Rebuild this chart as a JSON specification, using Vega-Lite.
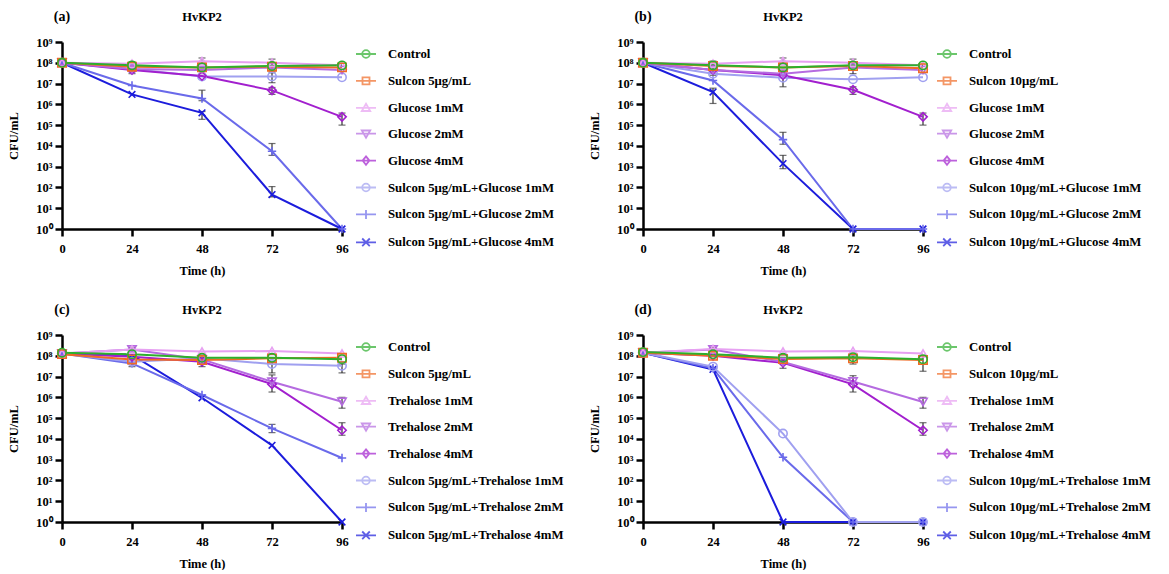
{
  "$schema": "https://vega.github.io/schema/vega-lite/v6.json",
  "background": "white",
  "padding": {"left": 7, "top": 10, "right": 0, "bottom": 0},
  "columns": 2,
  "spacing": {"row": 106, "column": 301},
  "bounds": "flush",
  "resolve": {"scale": {"color": "independent", "shape": "independent"}, "legend": {"color": "independent", "shape": "independent"}},
  "config": {
    "view": {"stroke": null},
    "font": "Liberation Serif",
    "axis": {"domainColor": "#000", "domainWidth": 2.5, "tickColor": "#000", "tickWidth": 2.5, "tickSize": 7, "labelFont": "Liberation Serif", "labelFontWeight": "bold", "labelFontSize": 12.5, "labelColor": "#000", "titleFont": "Liberation Serif", "titleFontWeight": "bold", "titleFontSize": 12.5, "titleColor": "#000", "grid": false, "labelFlush": false, "labelOverlap": false},
    "axisX": {"labelPadding": 6, "titlePadding": 10},
    "axisY": {"labelPadding": 3, "titlePadding": 15},
    "legend": {"labelFont": "Liberation Serif", "labelFontWeight": "bold", "labelFontSize": 12.8, "labelColor": "#000", "labelLimit": 400}
  },
  "datasets": {
    "a": [
      {"s": "Sulcon 5μg/mL+Glucose 4mM", "t": 0, "v": 1e8}, {"s": "Sulcon 5μg/mL+Glucose 4mM", "t": 24, "v": 3e6}, {"s": "Sulcon 5μg/mL+Glucose 4mM", "t": 48, "v": 3.9e5, "lo": 1.9e5, "hi": 4.5e5}, {"s": "Sulcon 5μg/mL+Glucose 4mM", "t": 72, "v": 45, "lo": 35, "hi": 110}, {"s": "Sulcon 5μg/mL+Glucose 4mM", "t": 96, "v": 1},
      {"s": "Sulcon 5μg/mL+Glucose 2mM", "t": 0, "v": 1e8}, {"s": "Sulcon 5μg/mL+Glucose 2mM", "t": 24, "v": 8.1e6}, {"s": "Sulcon 5μg/mL+Glucose 2mM", "t": 48, "v": 1.9e6, "lo": 1.5e6, "hi": 4.8e6}, {"s": "Sulcon 5μg/mL+Glucose 2mM", "t": 72, "v": 5.5e3, "lo": 3.5e3, "hi": 1.3e4}, {"s": "Sulcon 5μg/mL+Glucose 2mM", "t": 96, "v": 1},
      {"s": "Sulcon 5μg/mL+Glucose 1mM", "t": 0, "v": 1e8}, {"s": "Sulcon 5μg/mL+Glucose 1mM", "t": 24, "v": 5e7}, {"s": "Sulcon 5μg/mL+Glucose 1mM", "t": 48, "v": 2.2e7}, {"s": "Sulcon 5μg/mL+Glucose 1mM", "t": 72, "v": 2.2e7, "lo": 1.1e7, "hi": 3.3e7}, {"s": "Sulcon 5μg/mL+Glucose 1mM", "t": 96, "v": 2e7},
      {"s": "Glucose 4mM", "t": 0, "v": 1e8}, {"s": "Glucose 4mM", "t": 24, "v": 4.5e7}, {"s": "Glucose 4mM", "t": 48, "v": 2.3e7}, {"s": "Glucose 4mM", "t": 72, "v": 4.7e6, "lo": 3e6, "hi": 6.5e6}, {"s": "Glucose 4mM", "t": 96, "v": 2.5e5, "lo": 1e5, "hi": 3.8e5},
      {"s": "Glucose 2mM", "t": 0, "v": 1e8}, {"s": "Glucose 2mM", "t": 24, "v": 5e7, "lo": 3e7, "hi": 6e7}, {"s": "Glucose 2mM", "t": 48, "v": 4.5e7}, {"s": "Glucose 2mM", "t": 72, "v": 6e7}, {"s": "Glucose 2mM", "t": 96, "v": 4.5e7},
      {"s": "Glucose 1mM", "t": 0, "v": 1e8}, {"s": "Glucose 1mM", "t": 24, "v": 9e7}, {"s": "Glucose 1mM", "t": 48, "v": 1.2e8, "lo": 9e7, "hi": 1.7e8}, {"s": "Glucose 1mM", "t": 72, "v": 1e8}, {"s": "Glucose 1mM", "t": 96, "v": 7.5e7},
      {"s": "Sulcon 5μg/mL", "t": 0, "v": 1e8}, {"s": "Sulcon 5μg/mL", "t": 24, "v": 6.5e7}, {"s": "Sulcon 5μg/mL", "t": 48, "v": 6e7}, {"s": "Sulcon 5μg/mL", "t": 72, "v": 6.5e7, "lo": 4e7, "hi": 1.5e8}, {"s": "Sulcon 5μg/mL", "t": 96, "v": 6e7},
      {"s": "Control", "t": 0, "v": 1e8}, {"s": "Control", "t": 24, "v": 7.5e7, "lo": 5e7, "hi": 1.1e8}, {"s": "Control", "t": 48, "v": 6e7}, {"s": "Control", "t": 72, "v": 7e7}, {"s": "Control", "t": 96, "v": 7.5e7}
    ],
    "b": [
      {"s": "Sulcon 10μg/mL+Glucose 4mM", "t": 0, "v": 1e8}, {"s": "Sulcon 10μg/mL+Glucose 4mM", "t": 24, "v": 3.9e6, "lo": 1.1e6, "hi": 6e6}, {"s": "Sulcon 10μg/mL+Glucose 4mM", "t": 48, "v": 1.4e3, "lo": 8e2, "hi": 3.5e3}, {"s": "Sulcon 10μg/mL+Glucose 4mM", "t": 72, "v": 1}, {"s": "Sulcon 10μg/mL+Glucose 4mM", "t": 96, "v": 1},
      {"s": "Sulcon 10μg/mL+Glucose 2mM", "t": 0, "v": 1e8}, {"s": "Sulcon 10μg/mL+Glucose 2mM", "t": 24, "v": 1.4e7}, {"s": "Sulcon 10μg/mL+Glucose 2mM", "t": 48, "v": 2e4, "lo": 1.2e4, "hi": 4.5e4}, {"s": "Sulcon 10μg/mL+Glucose 2mM", "t": 72, "v": 1}, {"s": "Sulcon 10μg/mL+Glucose 2mM", "t": 96, "v": 1},
      {"s": "Sulcon 10μg/mL+Glucose 1mM", "t": 0, "v": 1e8}, {"s": "Sulcon 10μg/mL+Glucose 1mM", "t": 24, "v": 3e7}, {"s": "Sulcon 10μg/mL+Glucose 1mM", "t": 48, "v": 1.9e7, "lo": 7e6, "hi": 2.5e7}, {"s": "Sulcon 10μg/mL+Glucose 1mM", "t": 72, "v": 1.6e7}, {"s": "Sulcon 10μg/mL+Glucose 1mM", "t": 96, "v": 2e7},
      {"s": "Glucose 4mM", "t": 0, "v": 1e8}, {"s": "Glucose 4mM", "t": 24, "v": 4.5e7}, {"s": "Glucose 4mM", "t": 48, "v": 2.5e7}, {"s": "Glucose 4mM", "t": 72, "v": 5e6, "lo": 3e6, "hi": 7e6}, {"s": "Glucose 4mM", "t": 96, "v": 2.5e5, "lo": 1e5, "hi": 3.8e5},
      {"s": "Glucose 2mM", "t": 0, "v": 1e8}, {"s": "Glucose 2mM", "t": 24, "v": 4.5e7, "lo": 2.5e7, "hi": 6e7}, {"s": "Glucose 2mM", "t": 48, "v": 3e7}, {"s": "Glucose 2mM", "t": 72, "v": 6e7}, {"s": "Glucose 2mM", "t": 96, "v": 4.5e7},
      {"s": "Glucose 1mM", "t": 0, "v": 1e8}, {"s": "Glucose 1mM", "t": 24, "v": 9e7}, {"s": "Glucose 1mM", "t": 48, "v": 1.2e8, "lo": 8e7, "hi": 1.7e8}, {"s": "Glucose 1mM", "t": 72, "v": 1e8}, {"s": "Glucose 1mM", "t": 96, "v": 7.5e7},
      {"s": "Sulcon 10μg/mL", "t": 0, "v": 1e8}, {"s": "Sulcon 10μg/mL", "t": 24, "v": 7e7}, {"s": "Sulcon 10μg/mL", "t": 48, "v": 6e7}, {"s": "Sulcon 10μg/mL", "t": 72, "v": 7e7, "lo": 3e7, "hi": 1.5e8}, {"s": "Sulcon 10μg/mL", "t": 96, "v": 5.5e7},
      {"s": "Control", "t": 0, "v": 1e8}, {"s": "Control", "t": 24, "v": 7.5e7, "lo": 4e7, "hi": 1.2e8}, {"s": "Control", "t": 48, "v": 6e7}, {"s": "Control", "t": 72, "v": 7.5e7}, {"s": "Control", "t": 96, "v": 7.5e7}
    ],
    "c": [
      {"s": "Sulcon 5μg/mL+Trehalose 4mM", "t": 0, "v": 1.3e8}, {"s": "Sulcon 5μg/mL+Trehalose 4mM", "t": 24, "v": 1.1e8}, {"s": "Sulcon 5μg/mL+Trehalose 4mM", "t": 48, "v": 9.5e5}, {"s": "Sulcon 5μg/mL+Trehalose 4mM", "t": 72, "v": 4.9e3}, {"s": "Sulcon 5μg/mL+Trehalose 4mM", "t": 96, "v": 1},
      {"s": "Sulcon 5μg/mL+Trehalose 2mM", "t": 0, "v": 1.3e8}, {"s": "Sulcon 5μg/mL+Trehalose 2mM", "t": 24, "v": 4.3e7}, {"s": "Sulcon 5μg/mL+Trehalose 2mM", "t": 48, "v": 1.3e6}, {"s": "Sulcon 5μg/mL+Trehalose 2mM", "t": 72, "v": 3.2e4, "lo": 2e4, "hi": 5e4}, {"s": "Sulcon 5μg/mL+Trehalose 2mM", "t": 96, "v": 1.2e3},
      {"s": "Sulcon 5μg/mL+Trehalose 1mM", "t": 0, "v": 1.3e8}, {"s": "Sulcon 5μg/mL+Trehalose 1mM", "t": 24, "v": 5.2e7}, {"s": "Sulcon 5μg/mL+Trehalose 1mM", "t": 48, "v": 7.5e7}, {"s": "Sulcon 5μg/mL+Trehalose 1mM", "t": 72, "v": 4e7, "lo": 1.5e7, "hi": 5e7}, {"s": "Sulcon 5μg/mL+Trehalose 1mM", "t": 96, "v": 3.3e7, "lo": 1.5e7, "hi": 4e7},
      {"s": "Trehalose 4mM", "t": 0, "v": 1.3e8}, {"s": "Trehalose 4mM", "t": 24, "v": 9e7}, {"s": "Trehalose 4mM", "t": 48, "v": 5.2e7}, {"s": "Trehalose 4mM", "t": 72, "v": 4.3e6}, {"s": "Trehalose 4mM", "t": 96, "v": 2.6e4, "lo": 1.5e4, "hi": 6e4},
      {"s": "Trehalose 2mM", "t": 0, "v": 1.3e8}, {"s": "Trehalose 2mM", "t": 24, "v": 2e8, "lo": 1e8, "hi": 2.5e8}, {"s": "Trehalose 2mM", "t": 48, "v": 6.7e7}, {"s": "Trehalose 2mM", "t": 72, "v": 5.6e6, "lo": 1.8e6, "hi": 1.2e7}, {"s": "Trehalose 2mM", "t": 96, "v": 6.1e5, "lo": 3e5, "hi": 1e6},
      {"s": "Trehalose 1mM", "t": 0, "v": 1.3e8}, {"s": "Trehalose 1mM", "t": 24, "v": 2e8}, {"s": "Trehalose 1mM", "t": 48, "v": 1.6e8}, {"s": "Trehalose 1mM", "t": 72, "v": 1.7e8}, {"s": "Trehalose 1mM", "t": 96, "v": 1.3e8},
      {"s": "Sulcon 5μg/mL", "t": 0, "v": 1.2e8}, {"s": "Sulcon 5μg/mL", "t": 24, "v": 6.7e7, "lo": 3e7, "hi": 1e8}, {"s": "Sulcon 5μg/mL", "t": 48, "v": 6.2e7, "lo": 3e7, "hi": 8e7}, {"s": "Sulcon 5μg/mL", "t": 72, "v": 7.5e7}, {"s": "Sulcon 5μg/mL", "t": 96, "v": 8e7},
      {"s": "Control", "t": 0, "v": 1.4e8}, {"s": "Control", "t": 24, "v": 1.2e8}, {"s": "Control", "t": 48, "v": 8e7}, {"s": "Control", "t": 72, "v": 8e7}, {"s": "Control", "t": 96, "v": 6.9e7}
    ],
    "d": [
      {"s": "Sulcon 10μg/mL+Trehalose 4mM", "t": 0, "v": 1.4e8}, {"s": "Sulcon 10μg/mL+Trehalose 4mM", "t": 24, "v": 2.2e7}, {"s": "Sulcon 10μg/mL+Trehalose 4mM", "t": 48, "v": 1}, {"s": "Sulcon 10μg/mL+Trehalose 4mM", "t": 72, "v": 1}, {"s": "Sulcon 10μg/mL+Trehalose 4mM", "t": 96, "v": 1},
      {"s": "Sulcon 10μg/mL+Trehalose 2mM", "t": 0, "v": 1.4e8}, {"s": "Sulcon 10μg/mL+Trehalose 2mM", "t": 24, "v": 2.5e7}, {"s": "Sulcon 10μg/mL+Trehalose 2mM", "t": 48, "v": 1.3e3}, {"s": "Sulcon 10μg/mL+Trehalose 2mM", "t": 72, "v": 1}, {"s": "Sulcon 10μg/mL+Trehalose 2mM", "t": 96, "v": 1},
      {"s": "Sulcon 10μg/mL+Trehalose 1mM", "t": 0, "v": 1.4e8}, {"s": "Sulcon 10μg/mL+Trehalose 1mM", "t": 24, "v": 3e7}, {"s": "Sulcon 10μg/mL+Trehalose 1mM", "t": 48, "v": 1.8e4}, {"s": "Sulcon 10μg/mL+Trehalose 1mM", "t": 72, "v": 1}, {"s": "Sulcon 10μg/mL+Trehalose 1mM", "t": 96, "v": 1},
      {"s": "Trehalose 4mM", "t": 0, "v": 1.4e8}, {"s": "Trehalose 4mM", "t": 24, "v": 1e8}, {"s": "Trehalose 4mM", "t": 48, "v": 4.6e7}, {"s": "Trehalose 4mM", "t": 72, "v": 4.2e6}, {"s": "Trehalose 4mM", "t": 96, "v": 2.6e4, "lo": 1.5e4, "hi": 6e4},
      {"s": "Trehalose 2mM", "t": 0, "v": 1.4e8}, {"s": "Trehalose 2mM", "t": 24, "v": 2e8, "lo": 1e8, "hi": 2.5e8}, {"s": "Trehalose 2mM", "t": 48, "v": 5e7, "lo": 2.5e7, "hi": 6e7}, {"s": "Trehalose 2mM", "t": 72, "v": 5.8e6, "lo": 1.8e6, "hi": 1.1e7}, {"s": "Trehalose 2mM", "t": 96, "v": 6e5, "lo": 3e5, "hi": 1e6},
      {"s": "Trehalose 1mM", "t": 0, "v": 1.4e8}, {"s": "Trehalose 1mM", "t": 24, "v": 2.1e8}, {"s": "Trehalose 1mM", "t": 48, "v": 1.6e8}, {"s": "Trehalose 1mM", "t": 72, "v": 1.7e8}, {"s": "Trehalose 1mM", "t": 96, "v": 1.3e8},
      {"s": "Sulcon 10μg/mL", "t": 0, "v": 1.4e8}, {"s": "Sulcon 10μg/mL", "t": 24, "v": 1e8}, {"s": "Sulcon 10μg/mL", "t": 48, "v": 7e7}, {"s": "Sulcon 10μg/mL", "t": 72, "v": 7.5e7, "lo": 4e7, "hi": 1e8}, {"s": "Sulcon 10μg/mL", "t": 96, "v": 6.3e7, "lo": 1.8e7, "hi": 1e8},
      {"s": "Control", "t": 0, "v": 1.5e8}, {"s": "Control", "t": 24, "v": 1.2e8}, {"s": "Control", "t": 48, "v": 8e7}, {"s": "Control", "t": 72, "v": 8.5e7}, {"s": "Control", "t": 96, "v": 6.9e7}
    ]
  },
  "concat": [
    {
      "width": 280, "height": 187,
      "data": {"name": "a"},
      "resolve": {"scale": {"color": "independent", "shape": "independent"}},
      "encoding": {"x": {"field": "t", "type": "quantitative", "scale": {"domain": [0, 96], "nice": false, "zero": false}, "axis": {"values": [0, 24, 48, 72, 96], "title": "Time (h)"}}},
      "layer": [
        {"transform": [{"filter": "isValid(datum.lo)"}], "mark": {"type": "errorbar", "color": "#333333", "thickness": 1.2, "ticks": {"size": 7}},
         "encoding": {"y": {"field": "lo", "type": "quantitative", "scale": {"type": "log", "domain": [1, 1000000000], "nice": false}, "axis": {"title": "CFU/mL", "values": [1, 10, 100, 1000, 10000, 100000, 1000000, 10000000, 100000000, 1000000000], "labelExpr": "'10' + ['⁰','¹','²','³','⁴','⁵','⁶','⁷','⁸','⁹'][round(log(datum.value)/LN10)]"}}, "y2": {"field": "hi"}}},
        {"mark": {"type": "line", "strokeWidth": 2},
         "encoding": {"y": {"field": "v", "type": "quantitative", "scale": {"type": "log", "domain": [1, 1000000000], "nice": false}, "axis": {"title": "CFU/mL", "values": [1, 10, 100, 1000, 10000, 100000, 1000000, 10000000, 100000000, 1000000000], "labelExpr": "'10' + ['⁰','¹','²','³','⁴','⁵','⁶','⁷','⁸','⁹'][round(log(datum.value)/LN10)]"}},
           "color": {"field": "s", "type": "nominal", "legend": null, "scale": {"domain": ["Control", "Sulcon 5μg/mL", "Glucose 1mM", "Glucose 2mM", "Glucose 4mM", "Sulcon 5μg/mL+Glucose 1mM", "Sulcon 5μg/mL+Glucose 2mM", "Sulcon 5μg/mL+Glucose 4mM"], "range": ["#2DAF2D", "#F06A24", "#E7A0F2", "#B56BE0", "#A21FCE", "#A0A0F0", "#6A6AEA", "#1C1CDC"]}}}},
        {"mark": {"type": "point", "filled": false, "size": 70, "strokeWidth": 1.6, "opacity": 1},
         "encoding": {"y": {"field": "v", "type": "quantitative", "scale": {"type": "log", "domain": [1, 1000000000], "nice": false}, "axis": {"title": "CFU/mL", "values": [1, 10, 100, 1000, 10000, 100000, 1000000, 10000000, 100000000, 1000000000], "labelExpr": "'10' + ['⁰','¹','²','³','⁴','⁵','⁶','⁷','⁸','⁹'][round(log(datum.value)/LN10)]"}},
           "color": {"field": "s", "type": "nominal", "legend": null, "scale": {"domain": ["Control", "Sulcon 5μg/mL", "Glucose 1mM", "Glucose 2mM", "Glucose 4mM", "Sulcon 5μg/mL+Glucose 1mM", "Sulcon 5μg/mL+Glucose 2mM", "Sulcon 5μg/mL+Glucose 4mM"], "range": ["#2DAF2D", "#F06A24", "#E7A0F2", "#B56BE0", "#A21FCE", "#A0A0F0", "#6A6AEA", "#1C1CDC"]}},
           "shape": {"field": "s", "type": "nominal", "legend": null, "scale": {"domain": ["Control", "Sulcon 5μg/mL", "Glucose 1mM", "Glucose 2mM", "Glucose 4mM", "Sulcon 5μg/mL+Glucose 1mM", "Sulcon 5μg/mL+Glucose 2mM", "Sulcon 5μg/mL+Glucose 4mM"], "range": ["circle", "square", "triangle-up", "triangle-down", "diamond", "circle", "M-1,0L1,0M0,-1L0,1", "M-0.8,-0.8L0.8,0.8M-0.8,0.8L0.8,-0.8"]}}}},
        {"transform": [{"filter": "false"}], "mark": {"type": "point", "filled": false, "strokeWidth": 1.6},
         "encoding": {
           "color": {"field": "s", "type": "nominal", "scale": {"domain": ["Control", "Sulcon 5μg/mL", "Glucose 1mM", "Glucose 2mM", "Glucose 4mM", "Sulcon 5μg/mL+Glucose 1mM", "Sulcon 5μg/mL+Glucose 2mM", "Sulcon 5μg/mL+Glucose 4mM"], "range": ["#2DAF2D", "#F06A24", "#E7A0F2", "#B56BE0", "#A21FCE", "#A0A0F0", "#6A6AEA", "#1C1CDC"]},
             "legend": {"title": null, "orient": "none", "legendX": 293, "legendY": 1, "symbolSize": 400, "rowPadding": 7.9, "labelOffset": 11, "symbolStrokeWidth": 1.8, "padding": 0}},
           "shape": {"field": "s", "type": "nominal", "scale": {"domain": ["Control", "Sulcon 5μg/mL", "Glucose 1mM", "Glucose 2mM", "Glucose 4mM", "Sulcon 5μg/mL+Glucose 1mM", "Sulcon 5μg/mL+Glucose 2mM", "Sulcon 5μg/mL+Glucose 4mM"], "range": ["M-1,0L1,0M0.38,0A0.38,0.38,0,1,1,-0.38,0A0.38,0.38,0,1,1,0.38,0", "M-1,0L1,0M-0.35,-0.35L0.35,-0.35L0.35,0.35L-0.35,0.35Z", "M-1,0L1,0M0,-0.4L0.42,0.32L-0.42,0.32Z", "M-1,0L1,0M0,0.4L0.42,-0.32L-0.42,-0.32Z", "M-1,0L1,0M0,-0.42L0.34,0L0,0.42L-0.34,0Z", "M-1,0L1,0M0.38,0A0.38,0.38,0,1,1,-0.38,0A0.38,0.38,0,1,1,0.38,0", "M-1,0L1,0M0,-0.45L0,0.45", "M-1,0L1,0M-0.38,-0.38L0.38,0.38M-0.38,0.38L0.38,-0.38"]},
             "legend": {"title": null, "orient": "none", "legendX": 293, "legendY": 1, "symbolSize": 400, "rowPadding": 7.9, "labelOffset": 11, "symbolStrokeWidth": 1.8, "padding": 0}}}},
        {"data": {"values": [{"lab": "(a)", "t": 0, "v": 1000000000}]}, "mark": {"type": "text", "dy": -25, "fontSize": 14, "fontWeight": "bold", "font": "Liberation Serif", "baseline": "middle", "align": "center", "color": "#000"},
         "encoding": {"y": {"field": "v", "type": "quantitative", "scale": {"type": "log", "domain": [1, 1000000000], "nice": false}, "axis": {"title": "CFU/mL", "values": [1, 10, 100, 1000, 10000, 100000, 1000000, 10000000, 100000000, 1000000000], "labelExpr": "'10' + ['⁰','¹','²','³','⁴','⁵','⁶','⁷','⁸','⁹'][round(log(datum.value)/LN10)]"}}, "text": {"field": "lab"}}},
        {"data": {"values": [{"lab": "HvKP2", "t": 48, "v": 1000000000}]}, "mark": {"type": "text", "dy": -25, "fontSize": 12.5, "fontWeight": "bold", "font": "Liberation Serif", "baseline": "middle", "align": "center", "color": "#000"},
         "encoding": {"y": {"field": "v", "type": "quantitative", "scale": {"type": "log", "domain": [1, 1000000000], "nice": false}, "axis": {"title": "CFU/mL", "values": [1, 10, 100, 1000, 10000, 100000, 1000000, 10000000, 100000000, 1000000000], "labelExpr": "'10' + ['⁰','¹','²','³','⁴','⁵','⁶','⁷','⁸','⁹'][round(log(datum.value)/LN10)]"}}, "text": {"field": "lab"}}}
      ]
    },
    {
      "width": 280, "height": 187,
      "data": {"name": "b"},
      "resolve": {"scale": {"color": "independent", "shape": "independent"}},
      "encoding": {"x": {"field": "t", "type": "quantitative", "scale": {"domain": [0, 96], "nice": false, "zero": false}, "axis": {"values": [0, 24, 48, 72, 96], "title": "Time (h)"}}},
      "layer": [
        {"transform": [{"filter": "isValid(datum.lo)"}], "mark": {"type": "errorbar", "color": "#333333", "thickness": 1.2, "ticks": {"size": 7}},
         "encoding": {"y": {"field": "lo", "type": "quantitative", "scale": {"type": "log", "domain": [1, 1000000000], "nice": false}, "axis": {"title": "CFU/mL", "values": [1, 10, 100, 1000, 10000, 100000, 1000000, 10000000, 100000000, 1000000000], "labelExpr": "'10' + ['⁰','¹','²','³','⁴','⁵','⁶','⁷','⁸','⁹'][round(log(datum.value)/LN10)]"}}, "y2": {"field": "hi"}}},
        {"mark": {"type": "line", "strokeWidth": 2},
         "encoding": {"y": {"field": "v", "type": "quantitative", "scale": {"type": "log", "domain": [1, 1000000000], "nice": false}, "axis": {"title": "CFU/mL", "values": [1, 10, 100, 1000, 10000, 100000, 1000000, 10000000, 100000000, 1000000000], "labelExpr": "'10' + ['⁰','¹','²','³','⁴','⁵','⁶','⁷','⁸','⁹'][round(log(datum.value)/LN10)]"}},
           "color": {"field": "s", "type": "nominal", "legend": null, "scale": {"domain": ["Control", "Sulcon 10μg/mL", "Glucose 1mM", "Glucose 2mM", "Glucose 4mM", "Sulcon 10μg/mL+Glucose 1mM", "Sulcon 10μg/mL+Glucose 2mM", "Sulcon 10μg/mL+Glucose 4mM"], "range": ["#2DAF2D", "#F06A24", "#E7A0F2", "#B56BE0", "#A21FCE", "#A0A0F0", "#6A6AEA", "#1C1CDC"]}}}},
        {"mark": {"type": "point", "filled": false, "size": 70, "strokeWidth": 1.6, "opacity": 1},
         "encoding": {"y": {"field": "v", "type": "quantitative", "scale": {"type": "log", "domain": [1, 1000000000], "nice": false}, "axis": {"title": "CFU/mL", "values": [1, 10, 100, 1000, 10000, 100000, 1000000, 10000000, 100000000, 1000000000], "labelExpr": "'10' + ['⁰','¹','²','³','⁴','⁵','⁶','⁷','⁸','⁹'][round(log(datum.value)/LN10)]"}},
           "color": {"field": "s", "type": "nominal", "legend": null, "scale": {"domain": ["Control", "Sulcon 10μg/mL", "Glucose 1mM", "Glucose 2mM", "Glucose 4mM", "Sulcon 10μg/mL+Glucose 1mM", "Sulcon 10μg/mL+Glucose 2mM", "Sulcon 10μg/mL+Glucose 4mM"], "range": ["#2DAF2D", "#F06A24", "#E7A0F2", "#B56BE0", "#A21FCE", "#A0A0F0", "#6A6AEA", "#1C1CDC"]}},
           "shape": {"field": "s", "type": "nominal", "legend": null, "scale": {"domain": ["Control", "Sulcon 10μg/mL", "Glucose 1mM", "Glucose 2mM", "Glucose 4mM", "Sulcon 10μg/mL+Glucose 1mM", "Sulcon 10μg/mL+Glucose 2mM", "Sulcon 10μg/mL+Glucose 4mM"], "range": ["circle", "square", "triangle-up", "triangle-down", "diamond", "circle", "M-1,0L1,0M0,-1L0,1", "M-0.8,-0.8L0.8,0.8M-0.8,0.8L0.8,-0.8"]}}}},
        {"transform": [{"filter": "false"}], "mark": {"type": "point", "filled": false, "strokeWidth": 1.6},
         "encoding": {
           "color": {"field": "s", "type": "nominal", "scale": {"domain": ["Control", "Sulcon 10μg/mL", "Glucose 1mM", "Glucose 2mM", "Glucose 4mM", "Sulcon 10μg/mL+Glucose 1mM", "Sulcon 10μg/mL+Glucose 2mM", "Sulcon 10μg/mL+Glucose 4mM"], "range": ["#2DAF2D", "#F06A24", "#E7A0F2", "#B56BE0", "#A21FCE", "#A0A0F0", "#6A6AEA", "#1C1CDC"]},
             "legend": {"title": null, "orient": "none", "legendX": 293, "legendY": 1, "symbolSize": 400, "rowPadding": 7.9, "labelOffset": 11, "symbolStrokeWidth": 1.8, "padding": 0}},
           "shape": {"field": "s", "type": "nominal", "scale": {"domain": ["Control", "Sulcon 10μg/mL", "Glucose 1mM", "Glucose 2mM", "Glucose 4mM", "Sulcon 10μg/mL+Glucose 1mM", "Sulcon 10μg/mL+Glucose 2mM", "Sulcon 10μg/mL+Glucose 4mM"], "range": ["M-1,0L1,0M0.38,0A0.38,0.38,0,1,1,-0.38,0A0.38,0.38,0,1,1,0.38,0", "M-1,0L1,0M-0.35,-0.35L0.35,-0.35L0.35,0.35L-0.35,0.35Z", "M-1,0L1,0M0,-0.4L0.42,0.32L-0.42,0.32Z", "M-1,0L1,0M0,0.4L0.42,-0.32L-0.42,-0.32Z", "M-1,0L1,0M0,-0.42L0.34,0L0,0.42L-0.34,0Z", "M-1,0L1,0M0.38,0A0.38,0.38,0,1,1,-0.38,0A0.38,0.38,0,1,1,0.38,0", "M-1,0L1,0M0,-0.45L0,0.45", "M-1,0L1,0M-0.38,-0.38L0.38,0.38M-0.38,0.38L0.38,-0.38"]},
             "legend": {"title": null, "orient": "none", "legendX": 293, "legendY": 1, "symbolSize": 400, "rowPadding": 7.9, "labelOffset": 11, "symbolStrokeWidth": 1.8, "padding": 0}}}},
        {"data": {"values": [{"lab": "(b)", "t": 0, "v": 1000000000}]}, "mark": {"type": "text", "dy": -25, "fontSize": 14, "fontWeight": "bold", "font": "Liberation Serif", "baseline": "middle", "align": "center", "color": "#000"},
         "encoding": {"y": {"field": "v", "type": "quantitative", "scale": {"type": "log", "domain": [1, 1000000000], "nice": false}, "axis": {"title": "CFU/mL", "values": [1, 10, 100, 1000, 10000, 100000, 1000000, 10000000, 100000000, 1000000000], "labelExpr": "'10' + ['⁰','¹','²','³','⁴','⁵','⁶','⁷','⁸','⁹'][round(log(datum.value)/LN10)]"}}, "text": {"field": "lab"}}},
        {"data": {"values": [{"lab": "HvKP2", "t": 48, "v": 1000000000}]}, "mark": {"type": "text", "dy": -25, "fontSize": 12.5, "fontWeight": "bold", "font": "Liberation Serif", "baseline": "middle", "align": "center", "color": "#000"},
         "encoding": {"y": {"field": "v", "type": "quantitative", "scale": {"type": "log", "domain": [1, 1000000000], "nice": false}, "axis": {"title": "CFU/mL", "values": [1, 10, 100, 1000, 10000, 100000, 1000000, 10000000, 100000000, 1000000000], "labelExpr": "'10' + ['⁰','¹','²','³','⁴','⁵','⁶','⁷','⁸','⁹'][round(log(datum.value)/LN10)]"}}, "text": {"field": "lab"}}}
      ]
    },
    {
      "width": 280, "height": 187,
      "data": {"name": "c"},
      "resolve": {"scale": {"color": "independent", "shape": "independent"}},
      "encoding": {"x": {"field": "t", "type": "quantitative", "scale": {"domain": [0, 96], "nice": false, "zero": false}, "axis": {"values": [0, 24, 48, 72, 96], "title": "Time (h)"}}},
      "layer": [
        {"transform": [{"filter": "isValid(datum.lo)"}], "mark": {"type": "errorbar", "color": "#333333", "thickness": 1.2, "ticks": {"size": 7}},
         "encoding": {"y": {"field": "lo", "type": "quantitative", "scale": {"type": "log", "domain": [1, 1000000000], "nice": false}, "axis": {"title": "CFU/mL", "values": [1, 10, 100, 1000, 10000, 100000, 1000000, 10000000, 100000000, 1000000000], "labelExpr": "'10' + ['⁰','¹','²','³','⁴','⁵','⁶','⁷','⁸','⁹'][round(log(datum.value)/LN10)]"}}, "y2": {"field": "hi"}}},
        {"mark": {"type": "line", "strokeWidth": 2},
         "encoding": {"y": {"field": "v", "type": "quantitative", "scale": {"type": "log", "domain": [1, 1000000000], "nice": false}, "axis": {"title": "CFU/mL", "values": [1, 10, 100, 1000, 10000, 100000, 1000000, 10000000, 100000000, 1000000000], "labelExpr": "'10' + ['⁰','¹','²','³','⁴','⁵','⁶','⁷','⁸','⁹'][round(log(datum.value)/LN10)]"}},
           "color": {"field": "s", "type": "nominal", "legend": null, "scale": {"domain": ["Control", "Sulcon 5μg/mL", "Trehalose 1mM", "Trehalose 2mM", "Trehalose 4mM", "Sulcon 5μg/mL+Trehalose 1mM", "Sulcon 5μg/mL+Trehalose 2mM", "Sulcon 5μg/mL+Trehalose 4mM"], "range": ["#2DAF2D", "#F06A24", "#E7A0F2", "#B56BE0", "#A21FCE", "#A0A0F0", "#6A6AEA", "#1C1CDC"]}}}},
        {"mark": {"type": "point", "filled": false, "size": 70, "strokeWidth": 1.6, "opacity": 1},
         "encoding": {"y": {"field": "v", "type": "quantitative", "scale": {"type": "log", "domain": [1, 1000000000], "nice": false}, "axis": {"title": "CFU/mL", "values": [1, 10, 100, 1000, 10000, 100000, 1000000, 10000000, 100000000, 1000000000], "labelExpr": "'10' + ['⁰','¹','²','³','⁴','⁵','⁶','⁷','⁸','⁹'][round(log(datum.value)/LN10)]"}},
           "color": {"field": "s", "type": "nominal", "legend": null, "scale": {"domain": ["Control", "Sulcon 5μg/mL", "Trehalose 1mM", "Trehalose 2mM", "Trehalose 4mM", "Sulcon 5μg/mL+Trehalose 1mM", "Sulcon 5μg/mL+Trehalose 2mM", "Sulcon 5μg/mL+Trehalose 4mM"], "range": ["#2DAF2D", "#F06A24", "#E7A0F2", "#B56BE0", "#A21FCE", "#A0A0F0", "#6A6AEA", "#1C1CDC"]}},
           "shape": {"field": "s", "type": "nominal", "legend": null, "scale": {"domain": ["Control", "Sulcon 5μg/mL", "Trehalose 1mM", "Trehalose 2mM", "Trehalose 4mM", "Sulcon 5μg/mL+Trehalose 1mM", "Sulcon 5μg/mL+Trehalose 2mM", "Sulcon 5μg/mL+Trehalose 4mM"], "range": ["circle", "square", "triangle-up", "triangle-down", "diamond", "circle", "M-1,0L1,0M0,-1L0,1", "M-0.8,-0.8L0.8,0.8M-0.8,0.8L0.8,-0.8"]}}}},
        {"transform": [{"filter": "false"}], "mark": {"type": "point", "filled": false, "strokeWidth": 1.6},
         "encoding": {
           "color": {"field": "s", "type": "nominal", "scale": {"domain": ["Control", "Sulcon 5μg/mL", "Trehalose 1mM", "Trehalose 2mM", "Trehalose 4mM", "Sulcon 5μg/mL+Trehalose 1mM", "Sulcon 5μg/mL+Trehalose 2mM", "Sulcon 5μg/mL+Trehalose 4mM"], "range": ["#2DAF2D", "#F06A24", "#E7A0F2", "#B56BE0", "#A21FCE", "#A0A0F0", "#6A6AEA", "#1C1CDC"]},
             "legend": {"title": null, "orient": "none", "legendX": 293, "legendY": 1, "symbolSize": 400, "rowPadding": 7.9, "labelOffset": 11, "symbolStrokeWidth": 1.8, "padding": 0}},
           "shape": {"field": "s", "type": "nominal", "scale": {"domain": ["Control", "Sulcon 5μg/mL", "Trehalose 1mM", "Trehalose 2mM", "Trehalose 4mM", "Sulcon 5μg/mL+Trehalose 1mM", "Sulcon 5μg/mL+Trehalose 2mM", "Sulcon 5μg/mL+Trehalose 4mM"], "range": ["M-1,0L1,0M0.38,0A0.38,0.38,0,1,1,-0.38,0A0.38,0.38,0,1,1,0.38,0", "M-1,0L1,0M-0.35,-0.35L0.35,-0.35L0.35,0.35L-0.35,0.35Z", "M-1,0L1,0M0,-0.4L0.42,0.32L-0.42,0.32Z", "M-1,0L1,0M0,0.4L0.42,-0.32L-0.42,-0.32Z", "M-1,0L1,0M0,-0.42L0.34,0L0,0.42L-0.34,0Z", "M-1,0L1,0M0.38,0A0.38,0.38,0,1,1,-0.38,0A0.38,0.38,0,1,1,0.38,0", "M-1,0L1,0M0,-0.45L0,0.45", "M-1,0L1,0M-0.38,-0.38L0.38,0.38M-0.38,0.38L0.38,-0.38"]},
             "legend": {"title": null, "orient": "none", "legendX": 293, "legendY": 1, "symbolSize": 400, "rowPadding": 7.9, "labelOffset": 11, "symbolStrokeWidth": 1.8, "padding": 0}}}},
        {"data": {"values": [{"lab": "(c)", "t": 0, "v": 1000000000}]}, "mark": {"type": "text", "dy": -25, "fontSize": 14, "fontWeight": "bold", "font": "Liberation Serif", "baseline": "middle", "align": "center", "color": "#000"},
         "encoding": {"y": {"field": "v", "type": "quantitative", "scale": {"type": "log", "domain": [1, 1000000000], "nice": false}, "axis": {"title": "CFU/mL", "values": [1, 10, 100, 1000, 10000, 100000, 1000000, 10000000, 100000000, 1000000000], "labelExpr": "'10' + ['⁰','¹','²','³','⁴','⁵','⁶','⁷','⁸','⁹'][round(log(datum.value)/LN10)]"}}, "text": {"field": "lab"}}},
        {"data": {"values": [{"lab": "HvKP2", "t": 48, "v": 1000000000}]}, "mark": {"type": "text", "dy": -25, "fontSize": 12.5, "fontWeight": "bold", "font": "Liberation Serif", "baseline": "middle", "align": "center", "color": "#000"},
         "encoding": {"y": {"field": "v", "type": "quantitative", "scale": {"type": "log", "domain": [1, 1000000000], "nice": false}, "axis": {"title": "CFU/mL", "values": [1, 10, 100, 1000, 10000, 100000, 1000000, 10000000, 100000000, 1000000000], "labelExpr": "'10' + ['⁰','¹','²','³','⁴','⁵','⁶','⁷','⁸','⁹'][round(log(datum.value)/LN10)]"}}, "text": {"field": "lab"}}}
      ]
    },
    {
      "width": 280, "height": 187,
      "data": {"name": "d"},
      "resolve": {"scale": {"color": "independent", "shape": "independent"}},
      "encoding": {"x": {"field": "t", "type": "quantitative", "scale": {"domain": [0, 96], "nice": false, "zero": false}, "axis": {"values": [0, 24, 48, 72, 96], "title": "Time (h)"}}},
      "layer": [
        {"transform": [{"filter": "isValid(datum.lo)"}], "mark": {"type": "errorbar", "color": "#333333", "thickness": 1.2, "ticks": {"size": 7}},
         "encoding": {"y": {"field": "lo", "type": "quantitative", "scale": {"type": "log", "domain": [1, 1000000000], "nice": false}, "axis": {"title": "CFU/mL", "values": [1, 10, 100, 1000, 10000, 100000, 1000000, 10000000, 100000000, 1000000000], "labelExpr": "'10' + ['⁰','¹','²','³','⁴','⁵','⁶','⁷','⁸','⁹'][round(log(datum.value)/LN10)]"}}, "y2": {"field": "hi"}}},
        {"mark": {"type": "line", "strokeWidth": 2},
         "encoding": {"y": {"field": "v", "type": "quantitative", "scale": {"type": "log", "domain": [1, 1000000000], "nice": false}, "axis": {"title": "CFU/mL", "values": [1, 10, 100, 1000, 10000, 100000, 1000000, 10000000, 100000000, 1000000000], "labelExpr": "'10' + ['⁰','¹','²','³','⁴','⁵','⁶','⁷','⁸','⁹'][round(log(datum.value)/LN10)]"}},
           "color": {"field": "s", "type": "nominal", "legend": null, "scale": {"domain": ["Control", "Sulcon 10μg/mL", "Trehalose 1mM", "Trehalose 2mM", "Trehalose 4mM", "Sulcon 10μg/mL+Trehalose 1mM", "Sulcon 10μg/mL+Trehalose 2mM", "Sulcon 10μg/mL+Trehalose 4mM"], "range": ["#2DAF2D", "#F06A24", "#E7A0F2", "#B56BE0", "#A21FCE", "#A0A0F0", "#6A6AEA", "#1C1CDC"]}}}},
        {"mark": {"type": "point", "filled": false, "size": 70, "strokeWidth": 1.6, "opacity": 1},
         "encoding": {"y": {"field": "v", "type": "quantitative", "scale": {"type": "log", "domain": [1, 1000000000], "nice": false}, "axis": {"title": "CFU/mL", "values": [1, 10, 100, 1000, 10000, 100000, 1000000, 10000000, 100000000, 1000000000], "labelExpr": "'10' + ['⁰','¹','²','³','⁴','⁵','⁶','⁷','⁸','⁹'][round(log(datum.value)/LN10)]"}},
           "color": {"field": "s", "type": "nominal", "legend": null, "scale": {"domain": ["Control", "Sulcon 10μg/mL", "Trehalose 1mM", "Trehalose 2mM", "Trehalose 4mM", "Sulcon 10μg/mL+Trehalose 1mM", "Sulcon 10μg/mL+Trehalose 2mM", "Sulcon 10μg/mL+Trehalose 4mM"], "range": ["#2DAF2D", "#F06A24", "#E7A0F2", "#B56BE0", "#A21FCE", "#A0A0F0", "#6A6AEA", "#1C1CDC"]}},
           "shape": {"field": "s", "type": "nominal", "legend": null, "scale": {"domain": ["Control", "Sulcon 10μg/mL", "Trehalose 1mM", "Trehalose 2mM", "Trehalose 4mM", "Sulcon 10μg/mL+Trehalose 1mM", "Sulcon 10μg/mL+Trehalose 2mM", "Sulcon 10μg/mL+Trehalose 4mM"], "range": ["circle", "square", "triangle-up", "triangle-down", "diamond", "circle", "M-1,0L1,0M0,-1L0,1", "M-0.8,-0.8L0.8,0.8M-0.8,0.8L0.8,-0.8"]}}}},
        {"transform": [{"filter": "false"}], "mark": {"type": "point", "filled": false, "strokeWidth": 1.6},
         "encoding": {
           "color": {"field": "s", "type": "nominal", "scale": {"domain": ["Control", "Sulcon 10μg/mL", "Trehalose 1mM", "Trehalose 2mM", "Trehalose 4mM", "Sulcon 10μg/mL+Trehalose 1mM", "Sulcon 10μg/mL+Trehalose 2mM", "Sulcon 10μg/mL+Trehalose 4mM"], "range": ["#2DAF2D", "#F06A24", "#E7A0F2", "#B56BE0", "#A21FCE", "#A0A0F0", "#6A6AEA", "#1C1CDC"]},
             "legend": {"title": null, "orient": "none", "legendX": 293, "legendY": 1, "symbolSize": 400, "rowPadding": 7.9, "labelOffset": 11, "symbolStrokeWidth": 1.8, "padding": 0}},
           "shape": {"field": "s", "type": "nominal", "scale": {"domain": ["Control", "Sulcon 10μg/mL", "Trehalose 1mM", "Trehalose 2mM", "Trehalose 4mM", "Sulcon 10μg/mL+Trehalose 1mM", "Sulcon 10μg/mL+Trehalose 2mM", "Sulcon 10μg/mL+Trehalose 4mM"], "range": ["M-1,0L1,0M0.38,0A0.38,0.38,0,1,1,-0.38,0A0.38,0.38,0,1,1,0.38,0", "M-1,0L1,0M-0.35,-0.35L0.35,-0.35L0.35,0.35L-0.35,0.35Z", "M-1,0L1,0M0,-0.4L0.42,0.32L-0.42,0.32Z", "M-1,0L1,0M0,0.4L0.42,-0.32L-0.42,-0.32Z", "M-1,0L1,0M0,-0.42L0.34,0L0,0.42L-0.34,0Z", "M-1,0L1,0M0.38,0A0.38,0.38,0,1,1,-0.38,0A0.38,0.38,0,1,1,0.38,0", "M-1,0L1,0M0,-0.45L0,0.45", "M-1,0L1,0M-0.38,-0.38L0.38,0.38M-0.38,0.38L0.38,-0.38"]},
             "legend": {"title": null, "orient": "none", "legendX": 293, "legendY": 1, "symbolSize": 400, "rowPadding": 7.9, "labelOffset": 11, "symbolStrokeWidth": 1.8, "padding": 0}}}},
        {"data": {"values": [{"lab": "(d)", "t": 0, "v": 1000000000}]}, "mark": {"type": "text", "dy": -25, "fontSize": 14, "fontWeight": "bold", "font": "Liberation Serif", "baseline": "middle", "align": "center", "color": "#000"},
         "encoding": {"y": {"field": "v", "type": "quantitative", "scale": {"type": "log", "domain": [1, 1000000000], "nice": false}, "axis": {"title": "CFU/mL", "values": [1, 10, 100, 1000, 10000, 100000, 1000000, 10000000, 100000000, 1000000000], "labelExpr": "'10' + ['⁰','¹','²','³','⁴','⁵','⁶','⁷','⁸','⁹'][round(log(datum.value)/LN10)]"}}, "text": {"field": "lab"}}},
        {"data": {"values": [{"lab": "HvKP2", "t": 48, "v": 1000000000}]}, "mark": {"type": "text", "dy": -25, "fontSize": 12.5, "fontWeight": "bold", "font": "Liberation Serif", "baseline": "middle", "align": "center", "color": "#000"},
         "encoding": {"y": {"field": "v", "type": "quantitative", "scale": {"type": "log", "domain": [1, 1000000000], "nice": false}, "axis": {"title": "CFU/mL", "values": [1, 10, 100, 1000, 10000, 100000, 1000000, 10000000, 100000000, 1000000000], "labelExpr": "'10' + ['⁰','¹','²','³','⁴','⁵','⁶','⁷','⁸','⁹'][round(log(datum.value)/LN10)]"}}, "text": {"field": "lab"}}}
      ]
    }
  ]
}
